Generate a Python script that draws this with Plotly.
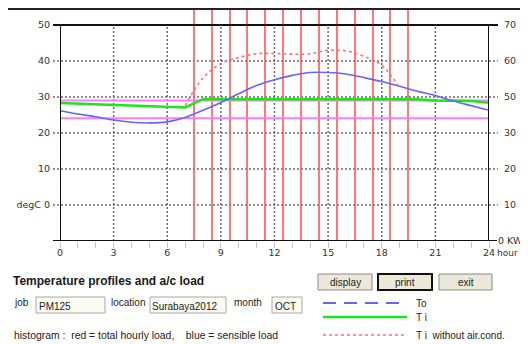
import plotly.graph_objects as go

# ---------------- data ----------------
hours = list(range(0, 25))
t_out = [26.2, 25.3, 24.5, 23.6, 23.0, 22.8, 23.1, 24.3, 26.3, 28.5, 30.9, 33.2, 34.8,
         36.0, 36.8, 36.8, 36.4, 35.4, 34.3, 33.0, 31.6, 30.4, 28.9, 27.6, 26.3]
t_in = [28.3, 28.1, 27.9, 27.7, 27.5, 27.3, 27.1, 27.1, 29.4, 29.4, 29.4, 29.4, 29.4,
        29.4, 29.4, 29.4, 29.4, 29.4, 29.4, 29.4, 29.4, 29.0, 29.0, 28.9, 28.4]
no_ac_hours = [7, 8, 9, 10, 11, 12, 13, 14, 15, 16, 17, 18, 19]
t_no_ac = [27.6, 35.3, 39.3, 41.0, 42.0, 42.1, 41.9, 42.0, 43.0, 42.8, 41.3, 38.8, 32.6]
comfort_hours = [0, 24]
comfort_upper = [29.0, 29.0]
comfort_lower = [24.1, 24.1]
load_hours = [7.5, 8.5, 9.5, 10.5, 11.5, 12.5, 13.5, 14.5, 15.5, 16.5, 17.5, 18.5, 19.5]
total_load = [80, 85, 88, 90, 92, 94, 95, 95, 94, 92, 88, 84, 80]   # off-scale (kW)

x_ticks = [0, 3, 6, 9, 12, 15, 18, 21, 24]
x_ticktext = ["0", "3", "6", "9", "12", "15", "18", "21", "24"]
temp_ticks = [0, 10, 20, 30, 40, 50]
temp_ticktext = ["degC 0", "10", "20", "30", "40", "50"]
kw_ticks = [0, 10, 20, 30, 40, 50, 60]
kw_ticktext = ["0 KW", "&nbsp;&nbsp;10", "&nbsp;&nbsp;20", "&nbsp;&nbsp;30",
               "&nbsp;&nbsp;50", "&nbsp;&nbsp;60", "&nbsp;&nbsp;70"]

# ---------------- geometry (page pixels; page has an 8px body margin) ----------------
OFF = 8
PAGE_W, PAGE_H = 528, 344
W, H = PAGE_W - OFF, PAGE_H - OFF
PL, PR, PT, PB = 60, 489, 8, 241
T_TOP = -10 + (PB - PT) / 3.6


def fx(px):
    return (px - PL) / (PR - PL)


def fy(py):
    return (PB - py) / (PB - PT)


fig = go.Figure()

fig.add_trace(go.Bar(x=load_hours, y=total_load, width=0.09, yaxis="y",
                     marker=dict(color="#ff6060", opacity=0.85, line=dict(width=0)),
                     name="total hourly load", showlegend=False))

fig.add_trace(go.Scatter(x=comfort_hours, y=comfort_upper, yaxis="y2", mode="lines",
                         line=dict(color="#ff7cff", width=2), showlegend=False))
fig.add_trace(go.Scatter(x=comfort_hours, y=comfort_lower, yaxis="y2", mode="lines",
                         line=dict(color="#ff7cff", width=2), showlegend=False))
fig.add_trace(go.Scatter(x=hours, y=t_in, yaxis="y2", mode="lines",
                         line=dict(color="#18e818", width=2.5), name="T i", showlegend=False))
fig.add_trace(go.Scatter(x=hours, y=t_out, yaxis="y2", mode="lines", line_shape="spline",
                         line=dict(color="#6464ff", width=1.6), name="To", showlegend=False))
fig.add_trace(go.Scatter(x=no_ac_hours, y=t_no_ac, yaxis="y2", mode="lines", line_shape="spline",
                         line=dict(color="#ff7070", width=1.6, dash="3px,3px"),
                         name="T i without air.cond.", showlegend=False))

shapes = []
grid = dict(color="#6a6a6a", width=1.5, dash="2px,2px")
for v in [0, 10, 20, 30, 40]:
    shapes.append(dict(type="line", xref="paper", yref="y2", x0=fx(53), x1=fx(498), y0=v, y1=v,
                       line=grid, layer="below"))
for v in [3, 6, 9, 12, 15, 18, 21]:
    shapes.append(dict(type="line", xref="x", yref="y2", x0=v, x1=v, y0=-10, y1=50,
                       line=grid, layer="below"))
axis_line = dict(color="#111111", width=2)
shapes.append(dict(type="line", xref="paper", yref="y2", x0=fx(53), x1=fx(498), y0=50, y1=50,
                   line=axis_line))
shapes.append(dict(type="line", xref="paper", yref="y2", x0=fx(53), x1=fx(497), y0=-10, y1=-10,
                   line=axis_line))
shapes.append(dict(type="line", xref="x", yref="y2", x0=0, x1=0, y0=-10, y1=50, line=axis_line))
shapes.append(dict(type="line", xref="x", yref="y2", x0=24, x1=24, y0=-10, y1=50, line=axis_line))
shapes.append(dict(type="line", xref="paper", yref="paper", x0=fx(8), x1=fx(528), y0=fy(9), y1=fy(9),
                   line=dict(color="#222222", width=2)))

for (x0, x1, bw, bc) in [(318, 372, 1, "#8a8a8a"), (378, 432, 2, "#111111"), (439, 492, 1, "#8a8a8a")]:
    shapes.append(dict(type="rect", xref="paper", yref="paper", x0=fx(x0), x1=fx(x1), y0=fy(290), y1=fy(274),
                       fillcolor="#ece9d8", line=dict(color=bc, width=bw)))
for (x0, x1) in [(36, 105), (150, 226), (272, 302)]:
    shapes.append(dict(type="rect", xref="paper", yref="paper", x0=fx(x0), x1=fx(x1), y0=fy(313), y1=fy(297),
                       fillcolor="#fbfbf4", line=dict(color="#a8a8a0", width=1)))
shapes.append(dict(type="line", xref="paper", yref="paper", x0=fx(323), x1=fx(407), y0=fy(303), y1=fy(303),
                   line=dict(color="#6464ff", width=2, dash="13px,8px")))
shapes.append(dict(type="line", xref="paper", yref="paper", x0=fx(323), x1=fx(407), y0=fy(317), y1=fy(317),
                   line=dict(color="#18e818", width=2.5)))
shapes.append(dict(type="line", xref="paper", yref="paper", x0=fx(323), x1=fx(407), y0=fy(335), y1=fy(335),
                   line=dict(color="#ff7070", width=1.5, dash="3px,3px")))

ui_font = dict(family="Liberation Sans, Arial, sans-serif", size=10, color="#222222")
annotations = []


def text(px, py, s, anchor="left", font=None):
    annotations.append(dict(xref="paper", yref="paper", x=fx(px), y=fy(py), text=s, showarrow=False,
                            xanchor=anchor, yanchor="middle", font=font or ui_font,
                            borderpad=0, borderwidth=0))


tick_font = dict(family="DejaVu Sans", size=9.5, color="#333333")
text(497, 253, "hour", "left", dict(family="DejaVu Sans", size=9, color="#333333"))
text(13, 281, "<b>Temperature profiles and a/c load</b>", "left",
     dict(family="Liberation Sans, Arial, sans-serif", size=12, color="#1a1a1a"))
text(14, 302, "job")
text(111, 302, "location")
text(234, 302, "month")
text(39, 306, "PM125")
text(152, 306, "Surabaya2012")
text(275, 306, "OCT")
text(14, 335, "histogram :  red = total hourly load,    blue = sensible load",
     font=dict(family="Liberation Sans, Arial, sans-serif", size=10.4, color="#222222"))
text(345, 282, "display", "center")
text(405, 282, "print", "center")
text(465.5, 282, "exit", "center")
text(416, 303, "To")
text(416, 317, "T i")
text(416, 335, "T i&nbsp;&nbsp;without air.cond.")

fig.update_layout(
    width=W, height=H, autosize=False,
    margin=dict(l=PL - OFF, r=PAGE_W - PR, t=PT - OFF, b=PAGE_H - PB, pad=0),
    paper_bgcolor="white", plot_bgcolor="white",
    showlegend=False, bargap=0,
    xaxis=dict(range=[0, 24], tickvals=x_ticks, ticktext=x_ticktext, showgrid=False, zeroline=False,
               showline=False, ticks="outside", ticklen=3, tickcolor="rgba(0,0,0,0)", tickfont=tick_font,
               minor=dict(dtick=1, tick0=0, ticks="outside", ticklen=6, tickcolor="#c4c4c4", showgrid=False)),
    yaxis=dict(range=[0, T_TOP + 10], side="right", tickvals=kw_ticks, ticktext=kw_ticktext, showgrid=False,
               zeroline=False, showline=False, ticks="", ticklabelstandoff=8, tickfont=tick_font,
               ticklabeloverflow="allow"),
    yaxis2=dict(range=[-10, T_TOP], overlaying="y", side="left", tickvals=temp_ticks, ticktext=temp_ticktext,
                showgrid=False, zeroline=False, showline=False, ticks="", ticklabelstandoff=9,
                tickfont=tick_font),
    shapes=shapes, annotations=annotations,
)

fig.write_html("out.html", config={"displayModeBar": False})
